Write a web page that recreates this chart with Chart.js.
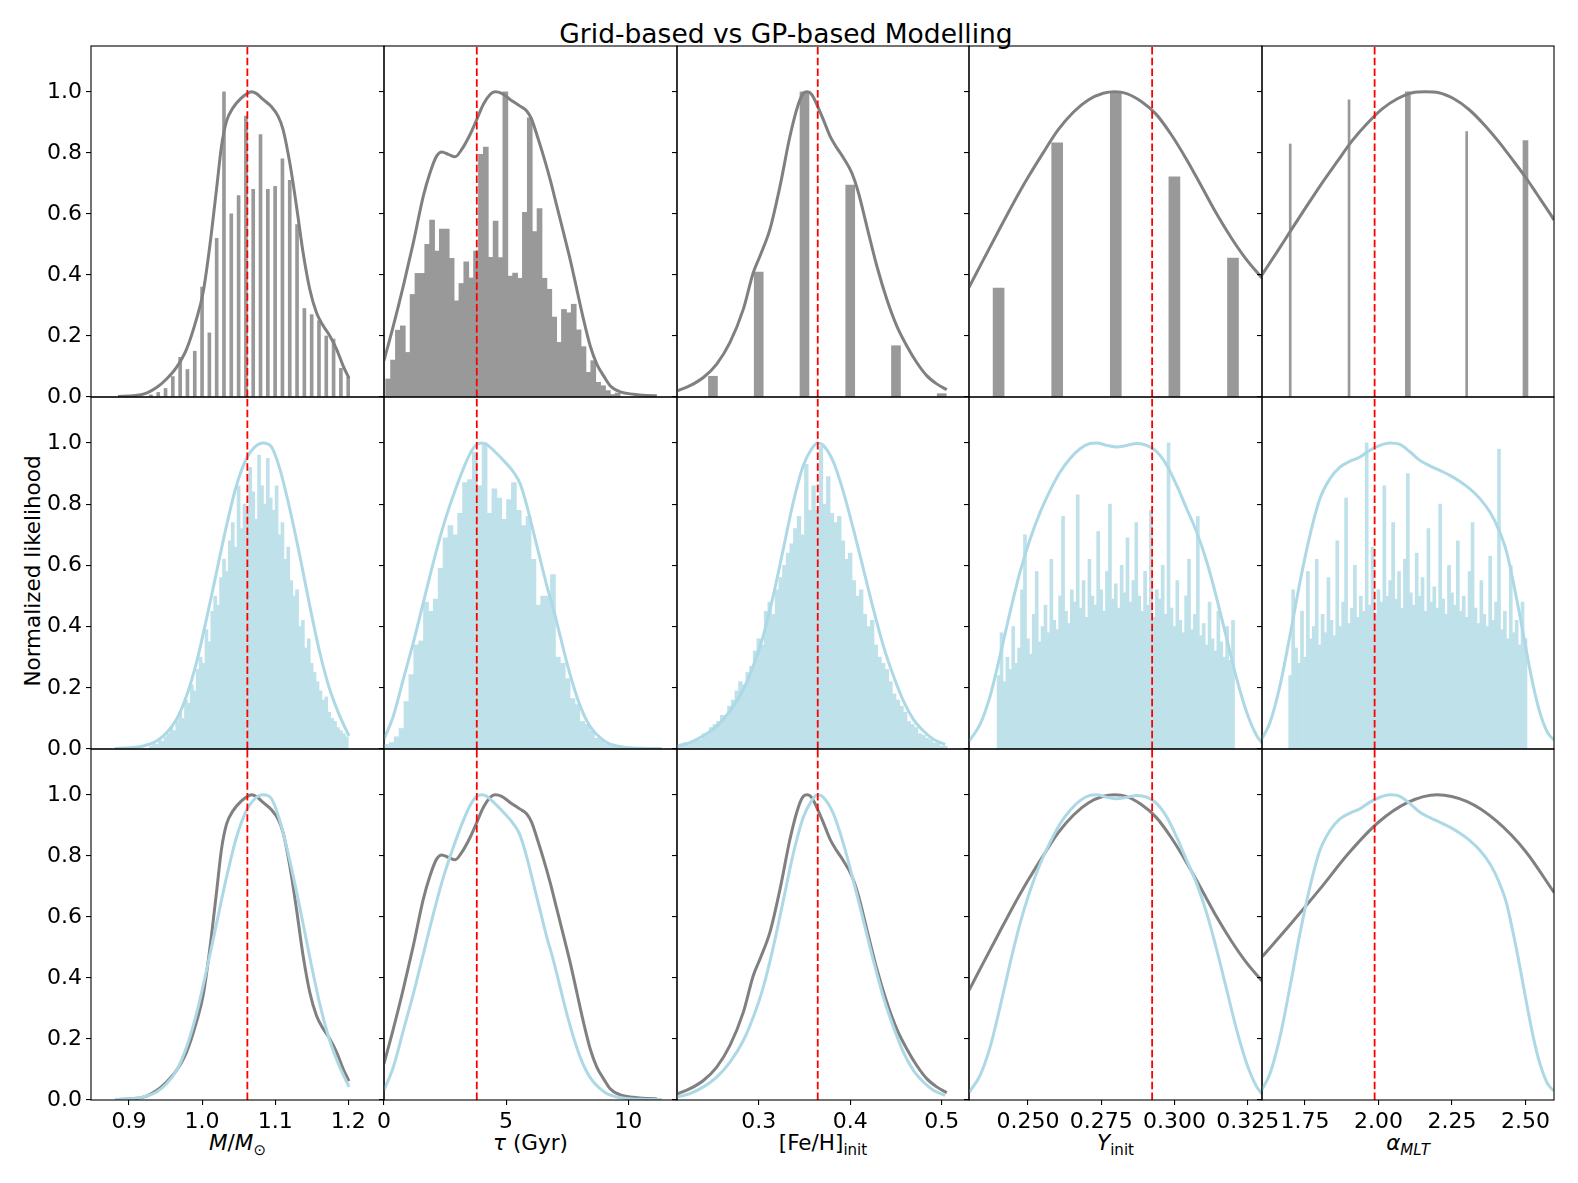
<!DOCTYPE html>
<html>
<head>
<meta charset="utf-8">
<script src="https://cdn.jsdelivr.net/npm/chart.js@4.4.1/dist/chart.umd.min.js"></script>
<style>
  html, body { margin: 0; padding: 0; background: #fff; }
  #fig { position: relative; width: 1578px; height: 1183px; overflow: hidden;
         font-family: 'DejaVu Sans', sans-serif; color: #000; }
  #fig canvas { position: absolute; }
  .lbl { position: absolute; white-space: nowrap; line-height: 1; font-size: 21.5px; }
  .lbl sub { font-size: 0.7em; vertical-align: -0.3em; line-height: 0; }
  .xlab { top: 1132px; transform: translateX(-50%); }
  .title { left: 786px; top: 21px; font-size: 26.5px; transform: translateX(-50%); }
  .ylab { left: 33px; top: 571px; transform: translate(-50%, -50%) rotate(-90deg); }
</style>
</head>
<body>
<div id="fig">
  <div class="lbl title">Grid-based vs GP-based Modelling</div>
  <div class="lbl ylab">Normalized likelihood</div>
  <div class="lbl xlab" style="left:237.5px"><i>M</i>/<i>M</i><sub>⊙</sub></div>
  <div class="lbl xlab" style="left:530.5px"><i>τ</i> (Gyr)</div>
  <div class="lbl xlab" style="left:823px">[Fe/H]<sub>init</sub></div>
  <div class="lbl xlab" style="left:1115.5px"><i>Y</i><sub>init</sub></div>
  <div class="lbl xlab" style="left:1408px"><i>α<sub>MLT</sub></i></div>
</div>
<script>
// ---- data ----

// mass
const massGridX = [0.93,0.94,0.95,0.96,0.97,0.98,0.99,1.00,1.01,1.02,1.03,1.04,1.05,1.06,1.07,1.08,1.09,1.10,1.11,1.12,1.13,1.14,1.15,1.16,1.17,1.18,1.19,1.20];
const massGridY = [0.007,0.015,0.028,0.067,0.13,0.09,0.15,0.36,0.21,0.52,1.00,0.60,0.66,0.92,0.68,0.86,0.68,0.69,0.78,0.71,0.565,0.29,0.27,0.25,0.20,0.19,0.094,0.064];
const massGridKdeX = [0.885,0.9057,0.924,0.9377,0.9514,0.965,0.9788,0.9924,1.0015,1.0106,1.0198,1.0266,1.0335,1.0425,1.054,1.0608,1.0676,1.0745,1.0835,1.095,1.104,1.1108,1.12,1.1292,1.1382,1.1474,1.1565,1.1656,1.1747,1.1839,1.1929,1.201];
const massGridKdeY = [0.002,0.004,0.013,0.031,0.059,0.097,0.157,0.256,0.343,0.495,0.681,0.822,0.904,0.948,0.980,0.993,1.0,0.994,0.975,0.951,0.920,0.877,0.768,0.626,0.474,0.353,0.277,0.234,0.201,0.158,0.103,0.062];
const massGpX = [0.930,0.934,0.938,0.942,0.946,0.950,0.954,0.958,0.962,0.966,0.970,0.974,0.978,0.982,0.986,0.990,0.994,0.998,1.002,1.006,1.010,1.014,1.018,1.022,1.026,1.030,1.034,1.038,1.042,1.046,1.050,1.054,1.058,1.062,1.066,1.070,1.074,1.078,1.082,1.086,1.090,1.094,1.098,1.102,1.106,1.110,1.114,1.118,1.122,1.126,1.130,1.134,1.138,1.142,1.146,1.150,1.154,1.158,1.162,1.166,1.170,1.174,1.178,1.182,1.186,1.190,1.194,1.198];
const massGpY = [0.01,0.02,0.015,0.03,0.025,0.04,0.05,0.07,0.06,0.09,
  0.12,0.10,0.16,0.15,0.21,0.19,0.26,0.30,0.28,0.39,
  0.35,0.45,0.50,0.47,0.56,0.62,0.58,0.68,0.74,0.66,
  0.86,0.72,0.80,0.77,0.92,0.84,0.75,0.96,0.86,0.80,
  0.95,0.82,0.78,0.86,0.70,0.74,0.62,0.66,0.55,0.50,
  0.52,0.40,0.42,0.33,0.36,0.28,0.25,0.22,0.19,0.16,
  0.17,0.12,0.10,0.09,0.07,0.06,0.05,0.04];
const massGpKdeX = [0.8807,0.9012,0.9194,0.9377,0.9514,0.9651,0.9788,0.9924,1.0061,1.0198,1.0335,1.0471,1.0608,1.0722,1.0835,1.095,1.1063,1.12,1.1337,1.1474,1.161,1.1747,1.1884,1.2011];
const massGpKdeY = [0.002,0.004,0.01,0.026,0.053,0.097,0.174,0.283,0.425,0.578,0.73,0.861,0.949,0.987,1.0,0.987,0.916,0.785,0.632,0.468,0.316,0.195,0.108,0.043];

// age
const ageGridX = [0.17,0.37,0.57,0.77,0.97,1.17,1.37,1.57,1.77,1.97,2.17,2.37,2.57,2.77,2.97,3.17,3.37,3.57,3.77,3.97,4.17,4.37,4.57,4.77,4.97,5.17,5.37,5.57,5.77,5.97,6.17,6.37,6.57,6.77,6.97,7.17,7.37,7.57,7.77,7.97,8.17,8.37,8.57,8.77,8.97,9.17,9.37,9.57];
const ageGridY = [0.059,0.121,0.219,0.233,0.146,0.336,0.405,0.405,0.50,0.58,
  0.478,0.55,0.55,0.454,0.315,0.372,0.443,0.39,0.478,0.795,
  0.819,0.458,0.576,0.457,1.0,0.396,0.406,0.389,0.605,0.915,
  0.542,0.617,0.389,0.353,0.262,0.179,0.287,0.276,0.304,0.22,
  0.165,0.081,0.119,0.048,0.037,0.021,0.008,0.013];
const ageGridKdeX = [0.0,0.3825,0.792,1.202,1.612,1.885,2.159,2.363,2.637,2.910,3.183,3.525,3.798,4.071,4.344,4.549,4.823,5.164,5.574,5.847,6.052,6.257,6.53,6.803,7.077,7.35,7.623,7.896,8.169,8.443,8.716,8.989,9.262,9.672,10.22,10.765,11.175];
const ageGridKdeY = [0.119,0.233,0.364,0.506,0.659,0.735,0.79,0.803,0.795,0.787,0.811,0.86,0.909,0.959,0.991,1.0,0.995,0.975,0.953,0.937,0.909,0.86,0.79,0.713,0.626,0.539,0.451,0.353,0.255,0.168,0.108,0.07,0.037,0.017,0.009,0.005,0.004];
const ageGpX = [0.12,0.32,0.52,0.72,0.92,1.12,1.32,1.52,1.72,1.92,2.12,2.32,2.52,2.72,2.92,3.12,3.32,3.52,3.72,3.92,4.12,4.32,4.52,4.72,4.92,5.12,5.32,5.52,5.72,5.92,6.12,6.32,6.52,6.72,6.92,7.12,7.32,7.52,7.72,7.92,8.12,8.32,8.52,8.72,8.92,9.12,9.32,9.52,9.72,9.92];
const ageGpY = [0.015,0.021,0.04,0.067,0.155,0.243,0.34,0.353,0.48,0.45,
  0.49,0.59,0.69,0.73,0.70,0.77,0.87,0.88,0.97,0.86,
  1.00,0.77,0.85,0.82,0.75,0.815,0.87,0.78,0.73,0.76,
  0.62,0.47,0.50,0.50,0.57,0.30,0.28,0.23,0.165,0.145,
  0.09,0.08,0.06,0.035,0.028,0.015,0.01,0.007,0.005,0.003];
const ageGpKdeX = [0.0,0.3825,0.792,1.202,1.612,2.022,2.432,2.842,3.251,3.525,3.798,4.003,4.208,4.481,4.891,5.301,5.574,5.847,6.12,6.393,6.667,6.94,7.213,7.486,7.76,8.033,8.306,8.579,8.852,9.126,9.536,10.082,10.765,11.38];
const ageGpKdeY = [0.032,0.108,0.228,0.348,0.479,0.61,0.73,0.829,0.916,0.965,0.995,1.0,0.995,0.976,0.943,0.905,0.867,0.796,0.709,0.621,0.534,0.457,0.37,0.283,0.206,0.141,0.092,0.059,0.037,0.021,0.01,0.004,0.002,0.001];

// [Fe/H]init
const fehGridX = [0.25,0.30,0.35,0.40,0.45,0.50];
const fehGridY = [0.068,0.409,1.0,0.694,0.168,0.011];
const fehGridKdeX = [0.2103,0.2249,0.2395,0.2541,0.2686,0.2832,0.2941,0.3014,0.3123,0.3233,0.3342,0.3433,0.3488,0.3531,0.3579,0.3634,0.3706,0.3779,0.3852,0.3925,0.4016,0.4089,0.418,0.429,0.4399,0.4508,0.4617,0.4727,0.4836,0.4945,0.5055];
const fehGridKdeY = [0.019,0.037,0.064,0.108,0.179,0.288,0.408,0.462,0.55,0.691,0.855,0.959,0.995,1.0,0.991,0.959,0.909,0.855,0.817,0.784,0.735,0.67,0.561,0.43,0.321,0.233,0.168,0.113,0.07,0.043,0.024];
const fehGpX = [0.212,0.216,0.220,0.224,0.228,0.232,0.236,0.240,0.244,0.248,0.252,0.256,0.260,0.264,0.268,0.272,0.276,0.280,0.284,0.288,0.292,0.296,0.300,0.304,0.308,0.312,0.316,0.320,0.324,0.328,0.332,0.336,0.340,0.344,0.348,0.352,0.356,0.360,0.364,0.368,0.372,0.376,0.380,0.384,0.388,0.392,0.396,0.400,0.404,0.408,0.412,0.416,0.420,0.424,0.428,0.432,0.436,0.440,0.444,0.448,0.452,0.456,0.460,0.464,0.468,0.472,0.476,0.480,0.484,0.488,0.492,0.496,0.500,0.504];
const fehGpY = [0.01,0.01,0.02,0.015,0.025,0.03,0.03,0.05,0.045,0.07,
  0.08,0.09,0.11,0.10,0.14,0.16,0.19,0.22,0.21,0.25,
  0.27,0.32,0.36,0.34,0.45,0.48,0.44,0.52,0.56,0.60,
  0.64,0.67,0.72,0.76,0.70,0.93,0.78,0.86,0.78,0.99,
  0.80,0.89,0.77,0.74,0.76,0.68,0.62,0.64,0.55,0.50,
  0.52,0.44,0.40,0.42,0.34,0.30,0.28,0.26,0.22,0.18,
  0.16,0.14,0.12,0.09,0.08,0.07,0.05,0.045,0.035,0.03,
  0.02,0.02,0.01,0.01];
const fehGpKdeX = [0.2103,0.2249,0.2395,0.2541,0.2686,0.2832,0.2941,0.305,0.3159,0.3269,0.3378,0.3488,0.3579,0.3645,0.3706,0.3816,0.3925,0.4034,0.4144,0.4253,0.4362,0.4472,0.4581,0.469,0.48,0.4909,0.5037];
const fehGpKdeY = [0.01,0.021,0.043,0.075,0.124,0.195,0.272,0.37,0.501,0.654,0.807,0.927,0.981,1.0,0.992,0.938,0.84,0.719,0.588,0.457,0.337,0.239,0.157,0.097,0.059,0.032,0.015];

// Yinit
const yGridX = [0.24,0.26,0.28,0.30,0.32];
const yGridY = [0.357,0.833,1.0,0.721,0.455];
const yGridKdeX = [0.2299,0.2346,0.2397,0.2448,0.25,0.2552,0.2603,0.2655,0.2706,0.2757,0.2796,0.2835,0.2886,0.2938,0.2989,0.3041,0.3092,0.3144,0.3195,0.3246,0.3299];
const yGridKdeY = [0.359,0.446,0.539,0.631,0.719,0.80,0.875,0.933,0.973,0.995,1.0,0.995,0.969,0.926,0.86,0.779,0.691,0.60,0.52,0.45,0.39];
const yGpX = [0.240,0.241,0.242,0.243,0.244,0.245,0.246,0.247,0.248,0.249,0.250,0.251,0.252,0.253,0.254,0.255,0.256,0.257,0.258,0.259,0.260,0.261,0.262,0.263,0.264,0.265,0.266,0.267,0.268,0.269,0.270,0.271,0.272,0.273,0.274,0.275,0.276,0.277,0.278,0.279,0.280,0.281,0.282,0.283,0.284,0.285,0.286,0.287,0.288,0.289,0.290,0.291,0.292,0.293,0.294,0.295,0.296,0.297,0.298,0.299,0.300,0.301,0.302,0.303,0.304,0.305,0.306,0.307,0.308,0.309,0.310,0.311,0.312,0.313,0.314,0.315,0.316,0.317,0.318,0.319,0.320];
const yGpY = [0.24,0.38,0.22,0.30,0.26,0.40,0.28,0.33,0.52,0.70,
  0.36,0.31,0.44,0.58,0.35,0.40,0.47,0.38,0.62,0.42,
  0.39,0.50,0.76,0.45,0.41,0.52,0.48,0.83,0.46,0.55,
  0.43,0.62,0.50,0.47,0.71,0.52,0.45,0.58,0.80,0.49,
  0.54,0.46,0.60,0.51,0.69,0.48,0.55,0.74,0.50,0.45,
  0.58,0.47,0.78,0.43,0.52,0.49,0.60,0.44,1.00,0.46,
  0.40,0.55,0.42,0.38,0.50,0.62,0.39,0.44,0.76,0.37,
  0.41,0.34,0.48,0.36,0.32,0.45,0.35,0.30,0.40,0.29,
  0.42];
const yGpKdeX = [0.23,0.2337,0.2371,0.2405,0.2439,0.2473,0.2508,0.2542,0.2576,0.261,0.2644,0.2678,0.2712,0.2735,0.2769,0.2803,0.2838,0.2872,0.2906,0.294,0.2974,0.3008,0.3042,0.3076,0.3111,0.3145,0.3179,0.3213,0.3247,0.3281,0.3299];
const yGpKdeY = [0.026,0.081,0.173,0.305,0.447,0.578,0.687,0.774,0.845,0.905,0.949,0.981,0.998,1.0,0.992,0.987,0.992,0.998,0.992,0.971,0.927,0.861,0.785,0.709,0.61,0.49,0.359,0.228,0.119,0.043,0.02];

// alpha_MLT
const alphaGridX = [1.7,1.9,2.1,2.3,2.5];
const alphaGridY = [0.829,0.974,1.0,0.87,0.84];
const alphaGridKdeX = [1.6037,1.6537,1.705,1.7565,1.8075,1.8588,1.9102,1.9616,2.0129,2.0643,2.1153,2.1602,2.2051,2.2565,2.3078,2.3588,2.4102,2.4616,2.5003,2.5388,2.5874,2.597];
const alphaGridKdeY = [0.40,0.473,0.55,0.626,0.70,0.77,0.839,0.896,0.944,0.977,0.997,1.0,0.997,0.977,0.942,0.893,0.835,0.77,0.72,0.665,0.595,0.58];
const alphaGridKdeLowX = [1.605,1.70,1.80,1.90,2.00,2.10,2.20,2.30,2.40,2.50,2.597];
const alphaGridKdeLowY = [0.47,0.575,0.69,0.81,0.91,0.975,1.0,0.978,0.915,0.815,0.68];
const alphaGpX = [1.70,1.71,1.72,1.73,1.74,1.75,1.76,1.77,1.78,1.79,1.80,1.81,1.82,1.83,1.84,1.85,1.86,1.87,1.88,1.89,1.90,1.91,1.92,1.93,1.94,1.95,1.96,1.97,1.98,1.99,2.00,2.01,2.02,2.03,2.04,2.05,2.06,2.07,2.08,2.09,2.10,2.11,2.12,2.13,2.14,2.15,2.16,2.17,2.18,2.19,2.20,2.21,2.22,2.23,2.24,2.25,2.26,2.27,2.28,2.29,2.30,2.31,2.32,2.33,2.34,2.35,2.36,2.37,2.38,2.39,2.40,2.41,2.42,2.43,2.44,2.45,2.46,2.47,2.48,2.49,2.50];
const alphaGpY = [0.24,0.52,0.33,0.28,0.45,0.30,0.58,0.36,0.40,0.62,
  0.34,0.44,0.38,0.56,0.42,0.37,0.68,0.40,0.48,0.82,
  0.41,0.46,0.60,0.43,0.50,0.45,1.00,0.47,0.66,0.44,
  0.52,0.48,0.86,0.50,0.55,0.74,0.49,0.58,0.46,0.62,
  0.90,0.51,0.47,0.64,0.50,0.56,0.45,0.72,0.48,0.53,
  0.46,0.80,0.49,0.44,0.60,0.51,0.47,0.68,0.45,0.50,
  0.43,0.58,0.74,0.46,0.41,0.55,0.44,0.40,0.63,0.42,
  0.48,0.98,0.39,0.45,0.36,0.60,0.38,0.42,0.34,0.48,
  0.36];
const alphaGpKdeX = [1.6027,1.631,1.665,1.699,1.733,1.767,1.801,1.835,1.869,1.903,1.937,1.971,2.005,2.039,2.073,2.107,2.141,2.175,2.209,2.243,2.277,2.311,2.345,2.379,2.4075,2.436,2.4585,2.481,2.504,2.5265,2.549,2.572,2.583,2.597];
const alphaGpKdeY = [0.032,0.086,0.206,0.37,0.545,0.698,0.818,0.883,0.921,0.94,0.954,0.976,0.992,1.0,0.995,0.971,0.943,0.925,0.91,0.894,0.874,0.85,0.818,0.774,0.72,0.643,0.545,0.436,0.316,0.206,0.119,0.059,0.043,0.03];

// reference values (red dashed lines)
const truthValues = [1.062, 3.8, 0.3645, 0.2924, 1.987];

// tick positions
const likelihoodTicks = [0, 0.2, 0.4, 0.6, 0.8, 1.0];
const massTicks = [0.9, 1.0, 1.1, 1.2];
const ageTicks = [0, 5, 10];
const fehTicks = [0.3, 0.4, 0.5];
const yTicks = [0.250, 0.275, 0.300, 0.325];
const alphaTicks = [1.75, 2.00, 2.25, 2.50];

// ---- layout ----
const panelX = [91, 384, 677, 969, 1262, 1554];
const panelY = [46, 397, 749, 1100];
const padL = 70, padT = 20, padR = 40, padB = 60;
const yTop = 1.15;

const gridBarColor = '#999999';
const gridLineColor = '#808080';
const gpBarColor = '#bfe1ea';
const gpLineColor = '#add8e6';

const columns = [
  { min: 0.848, max: 1.249, ticks: massTicks, digits: 1,
    gridBars: [massGridX, massGridY], gridBarPx: 3, gridKde: [massGridKdeX, massGridKdeY],
    gpBars: [massGpX, massGpY], gpBarPx: 3, gpKde: [massGpKdeX, massGpKdeY] },
  { min: 0, max: 12, ticks: ageTicks, digits: 0,
    gridBars: [ageGridX, ageGridY], gridBarPx: 5, gridKde: [ageGridKdeX, ageGridKdeY],
    gpBars: [ageGpX, ageGpY], gpBarPx: 5, gpKde: [ageGpKdeX, ageGpKdeY] },
  { min: 0.2107, max: 0.5298, ticks: fehTicks, digits: 1,
    gridBars: [fehGridX, fehGridY], gridBarPx: 9, gridKde: [fehGridKdeX, fehGridKdeY],
    gpBars: [fehGpX, fehGpY], gpBarPx: 3.7, gpKde: [fehGpKdeX, fehGpKdeY] },
  { min: 0.2299, max: 0.3299, ticks: yTicks, digits: 3,
    gridBars: [yGridX, yGridY], gridBarPx: 11, gridKde: [yGridKdeX, yGridKdeY],
    gpBars: [yGpX, yGpY], gpBarPx: 3, gpKde: [yGpKdeX, yGpKdeY] },
  { min: 1.604, max: 2.597, ticks: alphaTicks, digits: 2,
    gridBars: [alphaGridX, alphaGridY], gridBarPx: [2, 2, 5, 2, 5], gridKde: [alphaGridKdeX, alphaGridKdeY],
    gridKdeBottom: [alphaGridKdeLowX, alphaGridKdeLowY],
    gpBars: [alphaGpX, alphaGpY], gpBarPx: 3, gpKde: [alphaGpKdeX, alphaGpKdeY] }
];

Chart.defaults.font.family = "'DejaVu Sans', sans-serif";
Chart.defaults.font.size = 22;
Chart.defaults.color = '#000';

const zip = (xs, ys) => xs.map((x, i) => ({ x: x, y: ys[i] }));

const framePlugin = {
  id: 'frame',
  afterDraw(chart) {
    const { ctx, chartArea: a } = chart;
    ctx.save();
    ctx.strokeStyle = '#000';
    ctx.lineWidth = 1.1;
    ctx.strokeRect(a.left, a.top, a.right - a.left, a.bottom - a.top);
    ctx.restore();
  }
};

// one bar dataset per bar width (matplotlib draws some bins wider than others)
function barSets([xs, ys], px, color) {
  const widths = Array.isArray(px) ? px : xs.map(() => px);
  const groups = {};
  xs.forEach((x, i) => {
    (groups[widths[i]] = groups[widths[i]] || []).push({ x: x, y: ys[i] });
  });
  return Object.keys(groups).map(wd => ({
    type: 'bar', data: groups[wd], backgroundColor: color, borderWidth: 0,
    barThickness: Number(wd), grouped: false, order: 3
  }));
}

function curveSet([xs, ys], color, order) {
  return { type: 'line', data: zip(xs, ys), borderColor: color, borderWidth: 3,
           pointRadius: 0, fill: false, cubicInterpolationMode: 'monotone', order: order };
}

function truthSet(x) {
  return { type: 'line', data: [{ x: x, y: 0 }, { x: x, y: yTop }], borderColor: '#ff0000',
           borderWidth: 1.8, borderDash: [7.5, 3.2], pointRadius: 0, tension: 0, order: 0 };
}

const fig = document.getElementById('fig');

for (let r = 0; r < 3; r++) {
  for (let c = 0; c < 5; c++) {
    const col = columns[c];
    const w = panelX[c + 1] - panelX[c] + padL + padR;
    const h = panelY[r + 1] - panelY[r] + padT + padB;
    const canvas = document.createElement('canvas');
    canvas.width = w; canvas.height = h;
    canvas.style.width = w + 'px'; canvas.style.height = h + 'px';
    canvas.style.left = (panelX[c] - padL) + 'px';
    canvas.style.top = (panelY[r] - padT) + 'px';
    fig.appendChild(canvas);

    let datasets;
    if (r === 0) {
      datasets = barSets(col.gridBars, col.gridBarPx, gridBarColor)
        .concat([curveSet(col.gridKde, gridLineColor, 1)]);
    } else if (r === 1) {
      datasets = barSets(col.gpBars, col.gpBarPx, gpBarColor)
        .concat([curveSet(col.gpKde, gpLineColor, 1)]);
    } else {
      datasets = [curveSet(col.gridKdeBottom || col.gridKde, gridLineColor, 2),
                  curveSet(col.gpKde, gpLineColor, 1)];
    }
    datasets.push(truthSet(truthValues[c]));

    const bottomRow = r === 2;
    new Chart(canvas, {
      type: 'bar',
      data: { datasets: datasets },
      options: {
        responsive: false,
        animation: false,
        events: [],
        layout: { padding: { left: 0, top: padT, right: padR, bottom: 0 } },
        plugins: { legend: { display: false }, tooltip: { enabled: false } },
        scales: {
          x: {
            type: 'linear', min: col.min, max: col.max, offset: false,
            afterFit: s => { s.height = padB; },
            afterBuildTicks: s => { s.ticks = col.ticks.map(v => ({ value: v })); },
            border: { display: false },
            grid: { display: bottomRow, offset: false, drawOnChartArea: false,
                    tickLength: 5, color: '#000', lineWidth: 1.1 },
            ticks: { display: bottomRow, autoSkip: false, maxRotation: 0, minRotation: 0,
                     padding: 4, callback: v => Number(v).toFixed(col.digits) }
          },
          y: {
            type: 'linear', min: 0, max: yTop,
            afterFit: s => { s.width = padL; },
            afterBuildTicks: s => { s.ticks = likelihoodTicks.map(v => ({ value: v })); },
            border: { display: false },
            grid: { drawOnChartArea: false, tickLength: 5, color: '#000', lineWidth: 1.1 },
            ticks: { display: c === 0, padding: 4, callback: v => Number(v).toFixed(1) }
          }
        }
      },
      plugins: [framePlugin]
    });
  }
}
</script>
</body>
</html>
